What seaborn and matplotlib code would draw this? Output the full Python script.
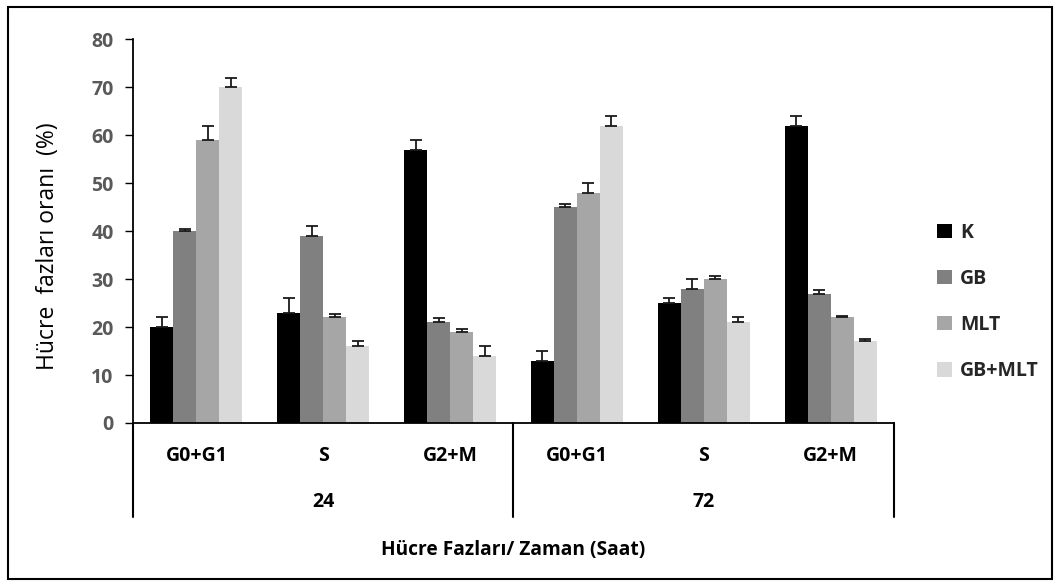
import numpy as np
import pandas as pd
import matplotlib
matplotlib.use("Agg")
import matplotlib.pyplot as plt
import matplotlib.transforms as mtransforms
from matplotlib.patches import Rectangle
import seaborn as sns

# Cell-cycle phases at two time points
times = ["24", "72"]
phases = ["G0+G1", "S", "G2+M"]
groups = ["K", "GB", "MLT", "GB+MLT"]

# Mean percentages (rows: 24h G0+G1, S, G2+M, 72h G0+G1, S, G2+M)
k_vals = [20, 23, 57, 13, 25, 62]
gb_vals = [40, 39, 21, 45, 28, 27]
mlt_vals = [59, 22, 19, 48, 30, 22]
gbmlt_vals = [70, 16, 14, 62, 21, 17]

# Upper error (standard deviation)
k_err = [2, 3, 2, 2, 1, 2]
gb_err = [0.5, 2, 0.8, 0.7, 2, 0.7]
mlt_err = [3, 0.7, 0.7, 2, 0.6, 0.4]
gbmlt_err = [2, 1, 2, 2, 1, 0.5]

colors = ["#000000", "#808080", "#a6a6a6", "#d9d9d9"]

cats = [f"{t}|{p}" for t in times for p in phases]
values = {"K": k_vals, "GB": gb_vals, "MLT": mlt_vals, "GB+MLT": gbmlt_vals}
errors = {"K": k_err, "GB": gb_err, "MLT": mlt_err, "GB+MLT": gbmlt_err}

rows = []
for g in groups:
    for c, v, e in zip(cats, values[g], errors[g]):
        rows.append({"cat": c, "group": g, "value": v, "err": e})
df = pd.DataFrame(rows)

sns.set_theme(style="white")
plt.rcParams["font.family"] = ["Open Sans", "DejaVu Sans"]

fig = plt.figure(figsize=(10.59, 5.85), dpi=100)
ax = fig.add_axes([133 / 1059, 1 - 423 / 585, (894 - 133) / 1059, (423 - 39.3) / 585])

sns.barplot(data=df, x="cat", y="value", hue="group", order=cats,
            hue_order=groups, palette=colors, width=0.726, errorbar=None,
            saturation=1, ax=ax, edgecolor="none", linewidth=0)

# Upper error bars centred on each bar
for cont, g in zip(ax.containers, groups):
    for bar, c, v, e in zip(cont, cats, values[g], errors[g]):
        xc = bar.get_x() + bar.get_width() / 2
        ax.errorbar(xc, v, yerr=[[0], [e]], fmt="none", ecolor="#1a1a1a",
                    elinewidth=1.3, capsize=4.5, capthick=1.3, zorder=3)

ax.set_ylim(0, 80)
ax.set_xlim(-0.5, 5.5)
ax.set_yticks(range(0, 81, 10))
ax.set_yticklabels([str(v) for v in range(0, 81, 10)], fontsize=14,
                   fontweight="bold", color="#595959")
ax.tick_params(axis="y", direction="out", length=6, width=1, color="black",
               pad=8, left=True)
ax.tick_params(axis="x", length=0)
ax.set_xticks([])
ax.set_xlabel("")
ax.set_ylabel("Hücre  fazları oranı  (%)", fontsize=16.5, color="black")
ax.yaxis.set_label_coords((60 - 133) / 761, (423 - 246) / 383.7)

for s in ["top", "right"]:
    ax.spines[s].set_visible(False)
for s in ["left", "bottom"]:
    ax.spines[s].set_color("black")
    ax.spines[s].set_linewidth(1.3)

# Two-level category axis
trans = mtransforms.blended_transform_factory(ax.transData, ax.transAxes)
ybot = -(517 - 423) / (423 - 39.3)
for xv in [-0.5, 2.5, 5.5]:
    ax.plot([xv, xv], [0, ybot], color="black", lw=1.5, transform=trans,
            clip_on=False)
y_phase = -(456 - 423) / (423 - 39.3)
y_time = -(502 - 423) / (423 - 39.3)
for i, c in enumerate(cats):
    ax.text(i, y_phase, c.split("|")[1], transform=trans, ha="center",
            va="center", fontsize=14, fontweight="bold", color="black")
for j, t in enumerate(times):
    ax.text(1 + 3 * j, y_time, t, transform=trans, ha="center", va="center",
            fontsize=14, fontweight="bold", color="black")

fig.text(513 / 1059, 1 - 550 / 585, "Hücre Fazları/ Zaman (Saat)",
         ha="center", va="center", fontsize=13.8, fontweight="bold",
         color="black")

sns.move_legend(ax, "center left", bbox_to_anchor=(937 / 1059, 1 - 302 / 585),
                bbox_transform=fig.transFigure, frameon=False, title=None,
                handlelength=0.75, handleheight=0.75, borderpad=0,
                borderaxespad=0, handletextpad=0.45, labelspacing=1.35,
                prop={"weight": "bold", "size": 14})

# Outer frame
fig.patches.append(Rectangle((8 / 1059, 1 - 579 / 585), (1052 - 8) / 1059,
                             (579 - 7) / 585, transform=fig.transFigure,
                             fill=False, edgecolor="black", lw=1.5))

fig.savefig("out.png", dpi=100)
